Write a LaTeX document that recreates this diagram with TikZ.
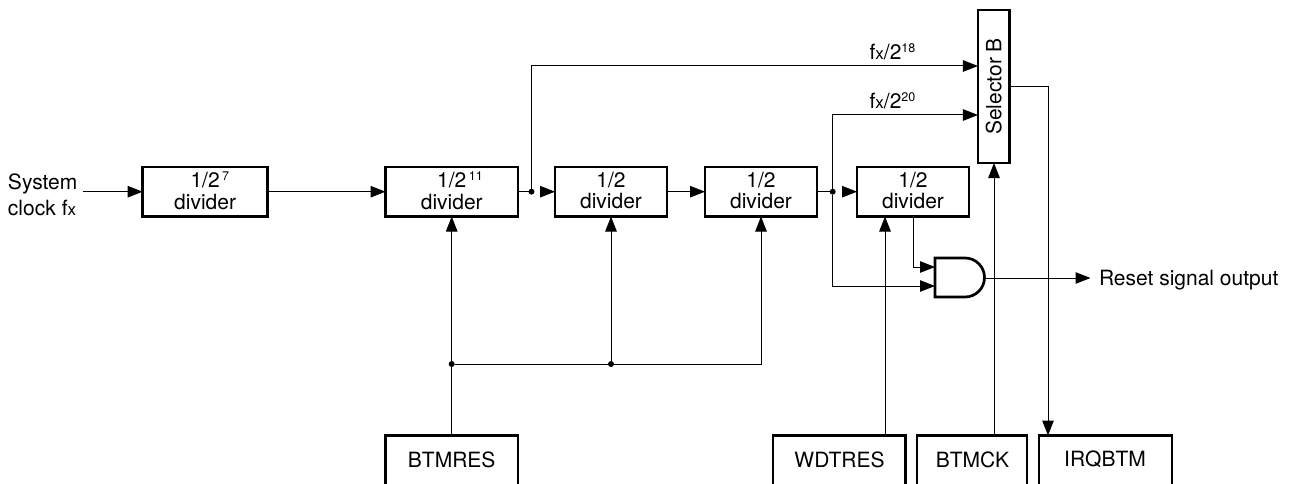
\documentclass[tikz,border=0pt]{standalone}
\usepackage{fontspec}
\setmainfont{TeX Gyre Heros}
\usetikzlibrary{arrows.meta,calc}
\newcommand{\fxsub}{f{\fontsize{17}{19}\selectfont x}}
\newcommand{\supnum}[1]{\raisebox{7.5pt}{\fontsize{12.5}{14}\selectfont #1}}
\newcommand{\supgap}[1]{\rlap{\hspace{2.5pt}\supnum{#1}}}
\tikzset{
  x=1pt,y=-1pt,
  every node/.style={font=\fontsize{21}{21.5}\selectfont,inner sep=0pt,outer sep=0pt},
  blockbox/.style={draw,line width=2.7pt,align=center,anchor=north west,text depth=3pt},
  wire/.style={line width=1pt},
  arrowed/.style={wire,-{Triangle[length=15pt,width=11.5pt]}},
  junction/.style={circle,fill,minimum size=6pt},
  plain/.style={anchor=base west},
  gapped/.style={shorten <=8pt}
}
\newcommand{\blk}[6]{\node[blockbox,minimum width=#4 pt-#2 pt,minimum height=#5 pt-#3 pt] (#1) at (#2,#3) {#6};}
\begin{document}
\begin{tikzpicture}
\useasboundingbox (0,0) rectangle (1298,484);
\blk{d7}{142.6}{167}{267.6}{216.5}{1/2\supgap{7}\\divider}
\blk{d11}{385.5}{167}{518}{216.5}{1/2\supgap{11}\\divider}
\blk{da}{555}{167}{667}{216.5}{1/2\\divider}
\blk{db}{705}{167}{817}{216.5}{1/2\\divider}
\blk{dc}{857}{167}{969}{216.5}{1/2\\divider}
\node[draw,line width=2.7pt,minimum width=153pt,minimum height=31.5pt,rotate=90] (sel) at (993.7,86.5) {Selector B};
\path[clip] (0,0) rectangle (1298,484);
\blk{btmres}{385.5}{435.5}{518}{500}{}
\blk{wdtres}{773}{435.5}{905.5}{500}{}
\blk{btmck}{917}{435.5}{1027}{500}{}
\blk{irq}{1039}{435.5}{1172}{500}{}
\node (t1) at (451.7,459.5) {BTMRES};
\node (t2) at (839.5,459.5) {WDTRES};
\node (t3) at (972.5,459.5) {BTMCK};
\node (t4) at (1105,459.5) {IRQBTM};
\node[plain] (sys) at (8,189) {System};
\node[plain] (clk) at (8,215) {clock \fxsub};
\node[plain] (rst) at (1099,285) {Reset signal output};
\node[anchor=base] (f18) at (892.5,60) {\fxsub/2\supnum{18}};
\node[anchor=base] (f20) at (892.5,109) {\fxsub/2\supnum{20}};
% AND gate
\node[minimum width=49.5pt,minimum height=39pt] (gate) at (959.75,277.5) {};
\draw[line width=2.7pt] (gate.north west) -- ++(30,0) arc[start angle=90,end angle=-90,radius=19.5pt] -- (gate.south west) -- cycle;
% junctions
\coordinate (jin) at (83,191.7);
\node[junction] (j1) at (531.5,191.7) {};
\node[junction] (j2) at (832.7,191.7) {};
\node[junction] (j3) at (451.7,364) {};
\node[junction] (j4) at (611,364) {};
\coordinate (gin1) at (gate.west |- 0,267);
\coordinate (gin2) at (gate.west |- 0,286);
\coordinate (gout) at (984.5,278);
\coordinate (rin) at (1090.5,278);
% connectors
\draw[arrowed] (jin) -- (d7.west |- jin);
\draw[arrowed] (d7.east |- jin) -- (d11.west |- jin);
\draw[wire] (d11.east |- jin) -- (j1);
\draw[arrowed,gapped] (j1) -- (da.west |- j1);
\draw[arrowed] (da.east |- j1) -- (db.west |- j1);
\draw[wire] (db.east |- j1) -- (j2);
\draw[arrowed,gapped] (j2) -- (dc.west |- j2);
\draw[arrowed] (j1) |- (sel.north |- 0,66);
\draw[arrowed] (j2) |- (sel.north |- 0,115);
\draw[arrowed] (j2) |- (gin2);
\draw[arrowed] (dc.south -| 913,0) |- (gin1);
\draw[arrowed] (gout) -- (rin);
\draw[arrowed] (btmres.north -| j3) -- (d11.south -| j3);
\draw[arrowed] (j4) -- (da.south -| j4);
\draw[arrowed] (j3) -| (db.south -| 761,0);
\draw[arrowed] (wdtres.north -| 885,0) -- (dc.south -| 885,0);
\draw[arrowed] (btmck.north -| 994,0) -- (sel.west -| 994,0);
\draw[arrowed] (sel.south |- 0,87) -| (irq.north -| 1048,0);
\end{tikzpicture}
\end{document}
